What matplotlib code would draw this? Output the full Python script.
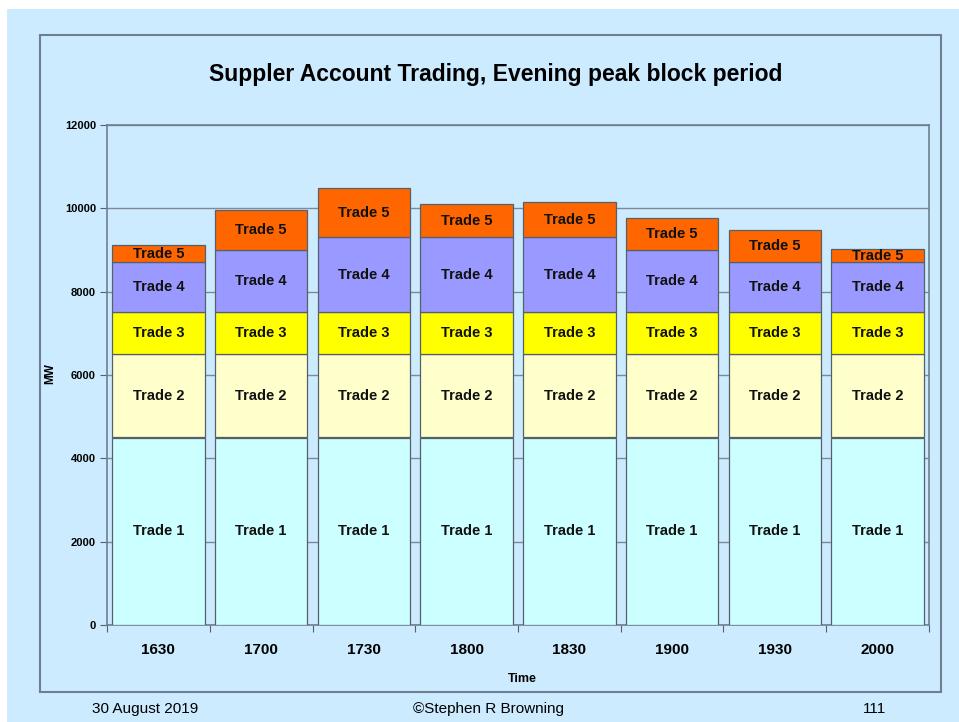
import numpy as np
import matplotlib.pyplot as plt
from matplotlib.patches import Rectangle

plt.rcParams['font.family'] = ['Liberation Sans', 'DejaVu Sans']

times = ["1630", "1700", "1730", "1800", "1830", "1900", "1930", "2000"]
trade_names = ["Trade 1", "Trade 2", "Trade 3", "Trade 4", "Trade 5"]
trade1 = [4500, 4500, 4500, 4500, 4500, 4500, 4500, 4500]
trade2 = [2000, 2000, 2000, 2000, 2000, 2000, 2000, 2000]
trade3 = [1000, 1000, 1000, 1000, 1000, 1000, 1000, 1000]
trade4 = [1200, 1500, 1800, 1800, 1800, 1500, 1200, 1200]
trade5 = [430, 970, 1190, 815, 845, 770, 770, 330]
colors = ["#CCFFFF", "#FFFFCC", "#FFFF00", "#9999FF", "#FF6600"]
bg = "#CCEBFF"

W, H = 959, 722
fig = plt.figure(figsize=(W / 100, H / 100), dpi=100)
fig.patch.set_facecolor("white")
# blue page background (white strip at top/left)
fig.add_artist(Rectangle((7 / W, 0), 1, 1 - 9 / H, transform=fig.transFigure,
                         facecolor=bg, edgecolor="none", zorder=0))
# chart frame
fig.add_artist(Rectangle((40 / W, 1 - 692 / H), (941 - 40) / W, (692 - 35) / H,
                         transform=fig.transFigure, facecolor="none",
                         edgecolor="#6F7F8F", lw=1.5, zorder=1))

ax = fig.add_axes([107 / W, 1 - 625 / H, (929 - 107) / W, (625 - 125) / H])
ax.set_facecolor(bg)
x = np.arange(len(times))
series = [trade1, trade2, trade3, trade4, trade5]
bottom = np.zeros(len(times))
for name, vals, c in zip(trade_names, series, colors):
    vals = np.array(vals, dtype=float)
    ax.bar(x, vals, bottom=bottom, width=0.9, color=c, edgecolor="#55606A",
           linewidth=0.9, zorder=3)
    for xi, b, v in zip(x, bottom, vals):
        ax.text(xi, b + v / 2, name, ha="center", va="center", fontsize=10.5,
                fontweight="bold", color="#111111", zorder=4)
    bottom += vals

ax.set_xlim(-0.5, len(times) - 0.5)
ax.set_ylim(0, 12000)
ax.set_yticks(np.arange(0, 12001, 2000))
ax.set_yticklabels([str(v) for v in range(0, 12001, 2000)], fontsize=8, fontweight="bold")
ax.yaxis.grid(True, color="#7F8A94", lw=1.0, zorder=0)
ax.set_axisbelow(True)
ax.set_xticks(np.arange(len(times) + 1) - 0.5)
ax.set_xticklabels([])
ax.set_xticks(x, minor=True)
ax.set_xticklabels(times, minor=True, fontsize=11, fontweight="bold")
ax.tick_params(axis="x", which="minor", length=0, pad=13)
ax.tick_params(axis="x", which="major", length=5, color="#55606A")
ax.tick_params(axis="y", length=5, color="#55606A", pad=3)
for s in ax.spines.values():
    s.set_color("#6F7F8F")
    s.set_linewidth(1.2)
ax.text(-0.069, 0.502, "MW", rotation=90, transform=ax.transAxes, ha="center",
        va="center", fontsize=8.5, fontweight="bold")
ax.text(0.505, -0.108, "Time", transform=ax.transAxes, ha="center",
        va="center", fontsize=9, fontweight="bold")

fig.text(496 / W, 1 - 74 / H, "Suppler Account Trading, Evening peak block period",
         ha="center", va="center", fontsize=16.5, fontweight="bold")
fig.text(145 / W, 1 - 709 / H, "30 August 2019", ha="center", va="center", fontsize=11)
fig.text(488 / W, 1 - 709 / H, "\u00a9Stephen R Browning", ha="center", va="center", fontsize=11)
fig.text(875 / W, 1 - 709 / H, "111", ha="center", va="center", fontsize=11)

fig.savefig("out.png", dpi=100)
